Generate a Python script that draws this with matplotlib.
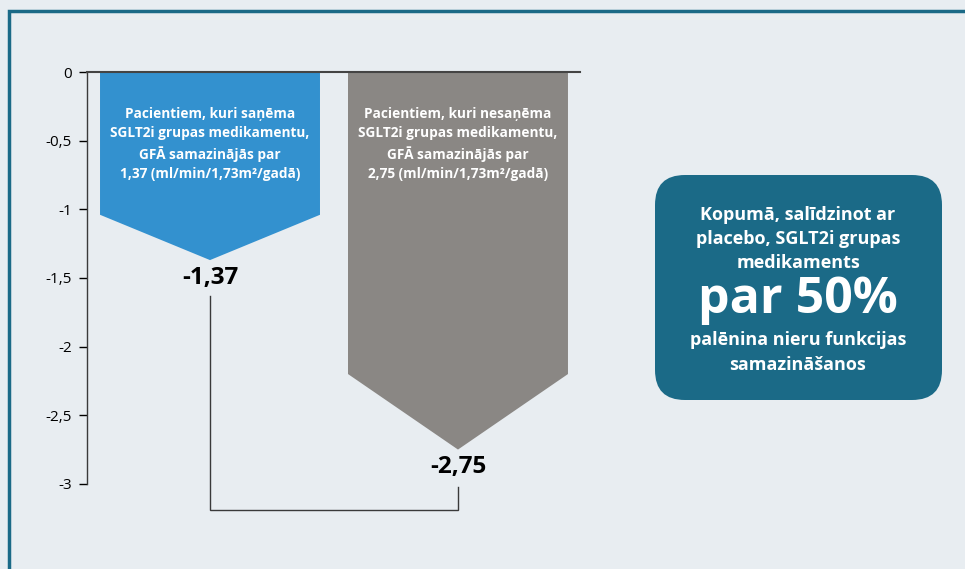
import matplotlib.pyplot as plt
from matplotlib.patches import FancyBboxPatch, Rectangle

# data
groups = ['SGLT2i', 'Placebo']
values = [-1.37, -2.75]
value_labels = ['-1,37', '-2,75']
bar_texts = [
    'Pacientiem, kuri saņēma\nSGLT2i grupas medikamentu,\nGFĀ samazinājās par\n1,37 (ml/min/1,73m²/gadā)',
    'Pacientiem, kuri nesaņēma\nSGLT2i grupas medikamentu,\nGFĀ samazinājās par\n2,75 (ml/min/1,73m²/gadā)',
]
yticks = [0, -0.5, -1, -1.5, -2, -2.5, -3]
ytick_labels = ['0', '-0,5', '-1', '-1,5', '-2', '-2,5', '-3']
box_lines_top = 'Kopumā, salīdzinot ar\nplacebo, SGLT2i grupas\nmedikaments'
box_big = 'par 50%'
box_lines_bottom = 'palēnina nieru funkcijas\nsamazināšanos'

# style
bar_colors = ['#3391cf', '#8a8784']
arrow_depth = [0.33, 0.55]
bar_width = 0.887
bg = '#e8edf1'
teal = '#1b6a87'
line_col = '#3a3a3a'

plt.rcParams['font.family'] = ['Open Sans', 'DejaVu Sans']

fig = plt.figure(figsize=(9.65, 5.69), dpi=100, facecolor=bg)

# frame
fig.add_artist(Rectangle((8.5 / 965, -0.05), 1.1, 1.05 - 10.5 / 569,
                         transform=fig.transFigure, fill=False,
                         edgecolor=teal, lw=2.5))

ax = fig.add_axes([87 / 965, 0, 493 / 965, 1 - 72 / 569])
ax.set_facecolor('none')
ax.set_xlim(-0.496, 1.492)
ax.set_ylim(-3.62, 0)

for i, v in enumerate(values):
    hw = bar_width / 2
    sh = v + arrow_depth[i]
    ax.fill([i - hw, i + hw, i + hw, i, i - hw],
            [0, 0, sh, v, sh], color=bar_colors[i], lw=0, zorder=2)
    ax.text(i, -0.525, bar_texts[i], ha='center', va='center', color='white',
            fontsize=9.8, fontweight='bold', linespacing=1.48, zorder=3)
    ax.text(i, v - 0.13, value_labels[i], ha='center', va='center',
            color='black', fontsize=17.5, fontweight='bold')

# bracket between the two values
bottom = -3.19
ax.plot([0, 0, 1, 1], [values[0] - 0.26, bottom, bottom, values[1] - 0.27],
        color=line_col, lw=1, solid_joinstyle='miter')

ax.set_xticks([])
ax.set_yticks(yticks)
ax.set_yticklabels(ytick_labels)
ax.tick_params(axis='y', direction='out', length=6, width=1, pad=5,
               labelsize=11, colors='black')
for s in ['right', 'bottom']:
    ax.spines[s].set_visible(False)
ax.spines['left'].set_bounds(-3, 0)
ax.spines['left'].set_linewidth(1)
ax.spines['left'].set_color(line_col)
ax.spines['top'].set_linewidth(1.5)
ax.spines['top'].set_color('#444444')

# summary box
fig.add_artist(FancyBboxPatch((655 / 965, 1 - 400 / 569), 287 / 965, 225 / 569,
                              boxstyle='round,pad=0,rounding_size=0.031',
                              mutation_aspect=965 / 569,
                              transform=fig.transFigure, facecolor=teal,
                              edgecolor='none'))
cx = 798 / 965
fig.text(cx, 1 - 239 / 569, box_lines_top, ha='center', va='center',
         color='white', fontsize=13, fontweight='bold', linespacing=1.4)
fig.text(cx, 1 - 300 / 569, box_big, ha='center', va='center',
         color='white', fontsize=36, fontweight='bold')
fig.text(cx, 1 - 352.5 / 569, box_lines_bottom, ha='center', va='center',
         color='white', fontsize=13, fontweight='bold', linespacing=1.45)

fig.savefig('out.png', dpi=100, facecolor=bg)
